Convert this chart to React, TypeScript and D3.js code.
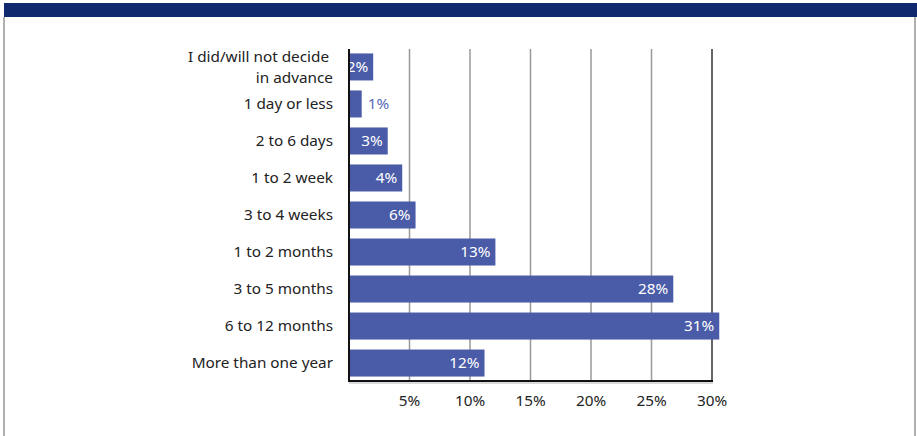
import React from "react";
import * as d3 from "d3";

const categories: string[][] = [
  ["I did/will not decide ", "in advance"],
  ["1 day or less"],
  ["2 to 6 days"],
  ["1 to 2 week"],
  ["3 to 4 weeks"],
  ["1 to 2 months"],
  ["3 to 5 months"],
  ["6 to 12 months"],
  ["More than one year"],
];
const values: number[] = [2.0, 1.05, 3.2, 4.4, 5.5, 12.1, 26.8, 30.6, 11.2];
const valueLabels: string[] = ["2%", "1%", "3%", "4%", "6%", "13%", "28%", "31%", "12%"];
const ticks: number[] = [5, 10, 15, 20, 25, 30];

const W = 917;
const H = 436;
const FONT = "'Noto Sans', sans-serif";
const FS = 15.3;
const BAR = "#4a5ba8";

export default function App() {
  const ids = categories.map((_, i) => String(i));
  const x = d3.scaleLinear().domain([0, 30]).range([349, 712]);
  const y = d3.scaleBand<string>().domain(ids).range([49, 381]).paddingInner(0.27).paddingOuter(0.12);
  const bw = y.bandwidth();

  return (
    <svg width={W} height={H} style={{ position: "absolute", left: 0, top: 0, display: "block", background: "#fff" }}>
      <rect x={4} y={3} width={W - 4} height={14} fill="#10296e" />
      <line x1={4} x2={4} y1={17} y2={H} stroke="#b0b0b0" strokeWidth={2} />
      <line x1={915} x2={915} y1={17} y2={H} stroke="#b0b0b0" strokeWidth={2} />

      {ticks.map((t) => (
        <line key={"g" + t} x1={x(t)} x2={x(t)} y1={49} y2={381}
          stroke={t === 30 ? "#333" : "#999"} strokeWidth={1.5} />
      ))}

      {values.map((v, i) => {
        const yy = y(ids[i])!;
        const end = x(v);
        const inside = end - x(0) > 22;
        return (
          <g key={"b" + i}>
            <rect x={x(0)} y={yy} width={end - x(0)} height={bw} fill={BAR} />
            <text x={inside ? end - 5 : end + 6} y={yy + bw / 2} dy="0.35em"
              textAnchor={inside ? "end" : "start"} fontFamily={FONT} fontSize={FS}
              fill={inside ? "#ffffff" : "#5a6ab8"}>{valueLabels[i]}</text>
          </g>
        );
      })}

      {categories.map((lines, i) => {
        const cy = y(ids[i])! + bw / 2;
        return (
          <text key={"c" + i} x={333} textAnchor="end" fontFamily={FONT} fontSize={FS} fill="#222">
            {lines.map((l, j) => (
              <tspan key={j} x={333} y={cy + (j - (lines.length - 1) / 2) * 21} dy="0.35em"
                style={{ whiteSpace: "pre" }}>{l}</tspan>
            ))}
          </text>
        );
      })}

      <line x1={349} x2={349} y1={49} y2={382} stroke="#111" strokeWidth={2} />
      <line x1={348} x2={713} y1={381} y2={381} stroke="#111" strokeWidth={2} />
      <line x1={349} x2={713} y1={383} y2={383} stroke="#ccc" strokeWidth={1.5} />

      {ticks.map((t) => (
        <text key={"t" + t} x={x(t)} y={401} dy="0.35em" textAnchor="middle"
          fontFamily={FONT} fontSize={FS} fill="#222">{t}%</text>
      ))}
    </svg>
  );
}
